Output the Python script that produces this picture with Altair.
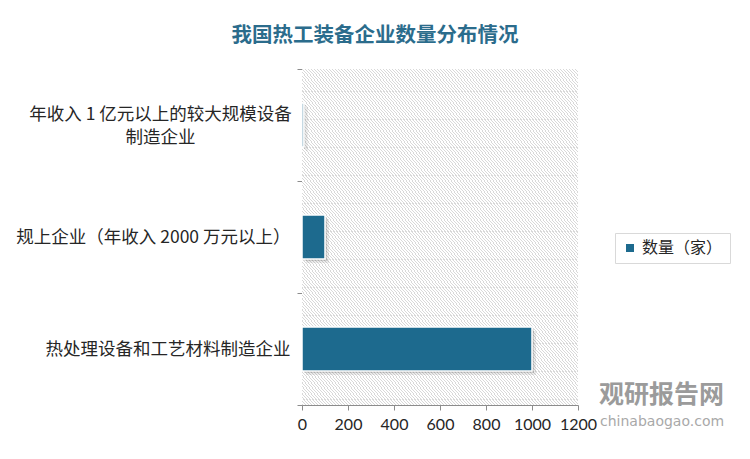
import altair as alt
import pandas as pd

# ---- data ----
categories = [
    "年收入 1 亿元以上的较大规模设备\n制造企业",
    "规上企业（年收入 2000 万元以上）",
    "热处理设备和工艺材料制造企业",
]
values = [8, 100, 1000]
series_name = "数量（家）"
x_ticks = [0, 200, 400, 600, 800, 1000, 1200]
title_text = "我国热工装备企业数量分布情况"
watermark_cn = ["观研报告网"]
watermark_en = ["chinabaogao.com"]

df = pd.DataFrame({"category": categories, "value": values,
                   "series": [series_name] * len(categories)})

# ---- style ----
W, H = 276, 336
BAR = "#1d6a8e"
CJK = "Noto Sans CJK SC"

# diagonal hatch via a striped linear gradient (style only)
N = 184
stops = []
for k in range(N):
    a = k / N
    b = (k + 0.34) / N
    stops.append({"offset": a, "color": "#d8d8d8"})
    stops.append({"offset": b, "color": "#d8d8d8"})
    stops.append({"offset": b, "color": "#ffffff"})
    stops.append({"offset": (k + 1) / N, "color": "#ffffff"})
hatch = {"gradient": "linear", "x1": 0, "y1": 1, "x2": 1, "y2": 0, "stops": stops}

ysort = categories
multiline = "length(split(datum.label, '\\n')) > 1"

bg = alt.Chart(pd.DataFrame({"k": [0]})).mark_rect(fill=hatch).encode(
    x=alt.value(0), x2=alt.value(W), y=alt.value(0), y2=alt.value(H)
)

y_enc = alt.Y(
    "category:N", sort=ysort, title=None,
    scale=alt.Scale(paddingInner=0, paddingOuter=0),
    axis=alt.Axis(
        tickBand="extent", labelFont=CJK, labelFontSize=17.5, labelColor="#262626",
        labelLineHeight=23, labelLimit=400,
        labelAlign={"condition": {"test": multiline, "value": "center"}, "value": "right"},
        labelPadding={"condition": {"test": multiline, "value": 137}, "value": 7},
        labelOffset={"condition": {"test": multiline, "value": -11}, "value": 0},
        labelExpr="split(datum.label, '\\n')",
        domainColor="#8c8c8c", tickColor="#8c8c8c", tickSize=5,
    ),
)
x_enc = alt.X(
    "value:Q", title=None,
    scale=alt.Scale(domain=[0, 1200], nice=False),
    axis=alt.Axis(values=x_ticks, format="d", grid=False, labelFont="Lato",
                  labelFontSize=16, labelColor="#262626", labelPadding=6,
                  labelFlush=False, labelOverlap=False, domainColor="#8c8c8c",
                  tickColor="#8c8c8c", tickSize=5),
)

shadow1 = alt.Chart(df).mark_bar(height={"band": 0.393}, color="#000000",
                                 opacity=0.08, xOffset=4, yOffset=4).encode(x=x_enc, y=y_enc)
shadow2 = alt.Chart(df).mark_bar(height={"band": 0.393}, color="#000000",
                                 opacity=0.12, xOffset=2, yOffset=2).encode(x=x_enc, y=y_enc)

bars = alt.Chart(df).mark_bar(height={"band": 0.393}, stroke="#ffffff",
                              strokeWidth=1.5).encode(
    x=x_enc, y=y_enc,
    color=alt.Color(
        "series:N",
        scale=alt.Scale(domain=[series_name], range=[BAR]),
        legend=alt.Legend(
            title=None, orient="none", legendX=313, legendY=164,
            strokeColor="#d9d9d9", fillColor="#ffffff", padding=7,
            symbolType="square", symbolSize=64, symbolStrokeWidth=0,
            labelFont=CJK, labelFontSize=16, labelColor="#262626",
        ),
    ),
)

wm1 = alt.Chart(pd.DataFrame({"t": watermark_cn})).mark_text(
    font=CJK, fontSize=25, fontWeight="bold", color="#8a8a8a", align="left",
    baseline="middle", opacity=0.85
).encode(text="t:N", x=alt.value(297), y=alt.value(326))
wm2 = alt.Chart(pd.DataFrame({"t": watermark_en})).mark_text(
    font="DejaVu Sans", fontSize=14, color="#9a9a9a", align="left",
    baseline="middle", opacity=0.85
).encode(text="t:N", x=alt.value(298), y=alt.value(353))

chart = alt.layer(bg, shadow1, shadow2, bars, wm1, wm2).properties(
    width=W, height=H,
    autosize=alt.AutoSizeParams(type="none"),
    padding={"left": 294, "top": 61, "right": 164, "bottom": 43},
    background="#ffffff",
    title=alt.TitleParams(
        title_text, font=CJK, fontSize=20.5, fontWeight="bold", color="#2b6c8c",
        anchor="middle", frame="group", dx=-65, baseline="middle", offset=4,
    ),
).configure_view(stroke=None)

chart.save("out.html", embed_options={"renderer": "svg", "actions": False})
